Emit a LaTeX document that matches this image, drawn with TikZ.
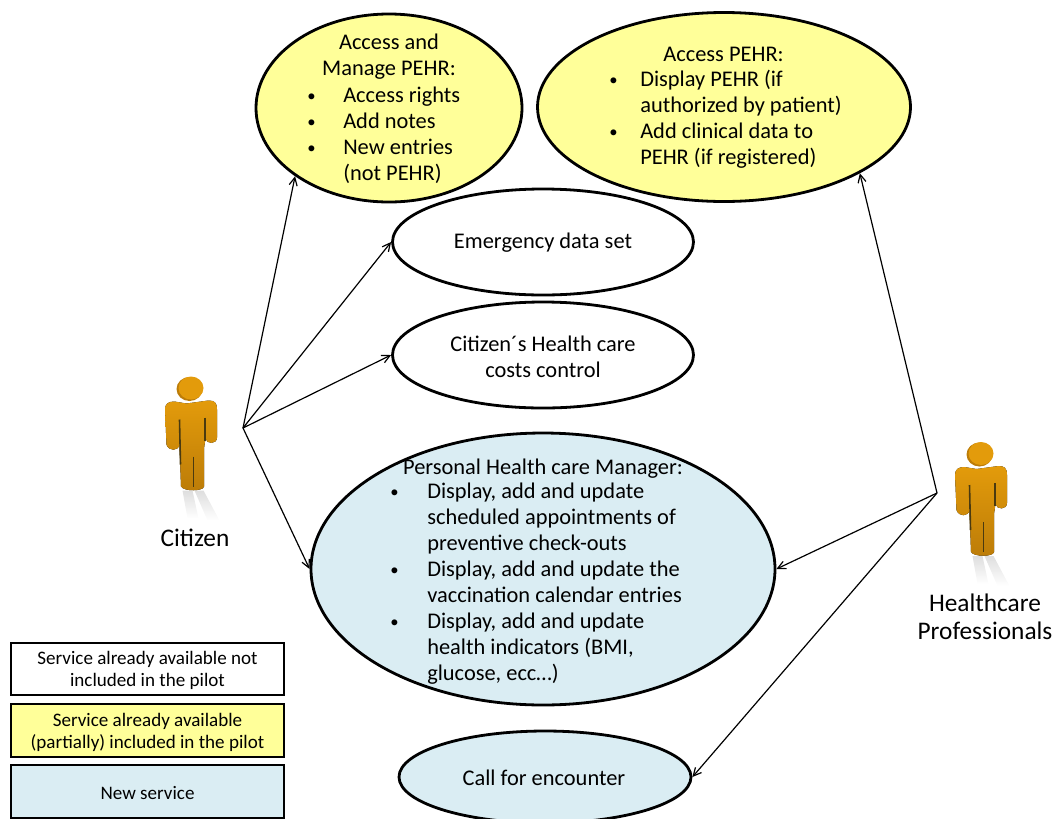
\documentclass[tikz,border=0pt]{standalone}
\usepackage{fontspec}
\setmainfont{Carlito}
\usetikzlibrary{shapes.geometric,arrows.meta,fadings}
\definecolor{svcyellow}{HTML}{FFFF99}
\definecolor{svcblue}{HTML}{DAEDF3}
\definecolor{manA}{HTML}{E39B0B}
\definecolor{manB}{HTML}{BC7C08}
\definecolor{manC}{HTML}{4A3A10}
\newlength{\px}\setlength{\px}{0.75pt}
\newcommand{\bl}[1]{\makebox[#1\px][l]{\raisebox{0.8pt}{\fontsize{12.5pt}{12.5pt}\selectfont •}}}
\newcommand{\nb}[1]{\makebox[#1\px][l]{}}
\tikzset{
  x=0.75pt,y=-0.75pt,
  svc/.style={ellipse,draw=black,line width=2.1pt,inner sep=0pt},
  txt/.style={inner sep=0pt,font=\fontsize{16.8pt}{19.5pt}\selectfont},
  lgd/.style={draw=black,line width=2.2pt,minimum width=273*0.75pt,inner sep=0pt},
  lgdtxt/.style={inner sep=0pt,align=center,font=\fontsize{14.3pt}{16.5pt}\selectfont},
  who/.style={inner sep=0pt,align=center,font=\fontsize{19pt}{21pt}\selectfont},
  conn/.style={-{Straight Barb[length=6pt,width=6pt]},line width=0.9pt,black},
  pics/person/.style={code={
    % reflection of the legs
    \fill[black!13,path fading=south] (-8,102) -- (2,102) -- (8,130) -- (-3,130) -- cycle;
    \fill[black!13,path fading=south] (4,102) -- (13,102) -- (29,132) -- (17,132) -- cycle;
    % body
    \fill[top color=manA,bottom color=manB]
      (-25.5,21) .. controls (-25.5,15) and (-22,13) .. (-16,13)
      -- (-4,15) -- (18,12) .. controls (24,12) and (26.5,14) .. (26.5,21)
      -- (26.5,49) .. controls (26.5,56) and (16,56) .. (15,50)
      -- (13.5,60) -- (13.5,98) .. controls (13,103) and (-7,103) .. (-9.5,98)
      -- (-11,56) .. controls (-12,63) and (-22,63) .. (-24,56) -- cycle;
    % slits
    \draw[line width=1.2pt,manC] (-11,31) -- (-10,76);
    \draw[line width=1.2pt,manC] (14.5,29) -- (14.5,52);
    \draw[line width=1.2pt,manC] (3,68) -- (3,98);
    % head
    \fill[manB] (-1,0.5) ellipse (13 and 12);
    \fill[manA] (0.5,-0.5) ellipse (12.5 and 11.5);
  }}
}
\begin{document}
\begin{tikzpicture}
\useasboundingbox (0,0) rectangle (1055,818);
\pic at (190.5,388.5) {person};
\pic at (980.5,454) {person};
\node[svc,fill=svcyellow,minimum width=266*0.75pt,minimum height=188*0.75pt] (access) at (389,108) {};
\node[svc,fill=svcyellow,minimum width=373*0.75pt,minimum height=189*0.75pt] (pehr) at (724,107) {};
\node[svc,fill=white,minimum width=301*0.75pt,minimum height=106*0.75pt] (emerg) at (543,242) {};
\node[svc,fill=white,minimum width=301*0.75pt,minimum height=106*0.75pt] (costs) at (543,355) {};
\node[svc,fill=svcblue,minimum width=464*0.75pt,minimum height=272*0.75pt] (manager) at (543,569) {};
\begin{scope}
\clip (0,0) rectangle (1055,818);
\node[svc,fill=svcblue,minimum width=292*0.75pt,minimum height=92*0.75pt] (call) at (545,777) {};
\end{scope}

\node[txt,align=center] (accessT) at (389,57) {Access and\\Manage PEHR:};
\node[txt,align=left,anchor=west] (accessL) at (307,135.5) {\bl{36}Access rights\\\bl{36}Add notes\\\bl{36}New entries\\\nb{36}(not PEHR)};
\node[txt] (pehrT) at (723.5,54) {Access PEHR:};
\node[txt,align=left,anchor=west] (pehrL) at (609,119.5) {\bl{31}Display PEHR (if\\\nb{31}authorized by patient)\\\bl{31}Add clinical data to\\\nb{31}PEHR (if registered)};
\node[txt] (emergT) at (543,243) {Emergency data set};
\node[txt,align=center] (costsT) at (543,357) {Citizen´s Health care\\costs control};
\node[txt] (managerT) at (543,469) {Personal Health care Manager:};
\node[txt,align=left,anchor=west] (managerL) at (390,584) {\bl{37}Display, add and update\\\nb{37}scheduled appointments of\\\nb{37}preventive check-outs\\\bl{37}Display, add and update the\\\nb{37}vaccination calendar entries\\\bl{37}Display, add and update\\\nb{37}health indicators (BMI,\\\nb{37}glucose, ecc…)};
\node[txt] (callT) at (544,778) {Call for encounter};

\node[lgd,fill=white,minimum height=52*0.75pt] (lg1) at (147.5,669) {};
\node[lgd,fill=svcyellow,minimum height=53*0.75pt] (lg2) at (147.5,730.5) {};
\node[lgd,fill=svcblue,minimum height=53*0.75pt] (lg3) at (147.5,791.5) {};
\node[lgdtxt] (lg1T) at (147.5,670.5) {Service already available not\\included in the pilot};
\node[lgdtxt] (lg2T) at (147.5,732) {Service already available\\(partially) included in the pilot};
\node[lgdtxt] (lg3T) at (147.5,793) {New service};

\node[who] (citizen) at (195,538) {Citizen};
\node[who] (health) at (985,617) {Healthcare\\Professionals};

\coordinate (c) at (243,428);
\coordinate (h) at (937,493);
\draw[conn] (c) -- (access.216.8);
\draw[conn] (c) -- (emerg.180);
\draw[conn] (c) -- (costs.180);
\draw[conn] (c) -- (manager.180);
\draw[conn] (h) -- (pehr.334);
\draw[conn] (h) -- (manager.0);
\draw[conn] (h) -- (call.0);
\end{tikzpicture}
\end{document}
